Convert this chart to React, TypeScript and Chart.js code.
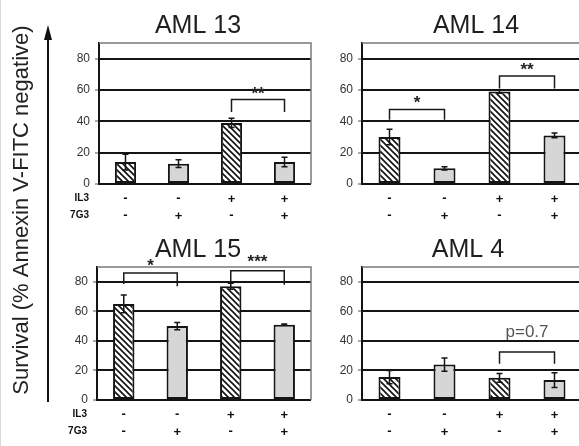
import React, { useEffect, useRef } from 'react';
import { Chart, registerables } from 'chart.js';
Chart.register(...registerables);

// ---------- data ----------
const conditions = ['IL3-/7G3-', 'IL3-/7G3+', 'IL3+/7G3-', 'IL3+/7G3+'];
const il3Signs = ['-', '-', '+', '+'];
const g73Signs = ['-', '+', '-', '+'];
const rowLabels = ['IL3', '7G3'];
const yTicks = [0, 20, 40, 60, 80];
const yMax = 90;
const yAxisTitle = 'Survival (% Annexin V-FITC negative)';

const aml13Values = [14, 13, 39, 14];
const aml13Errors = [5, 2.5, 3, 3];
const aml14Values = [30, 10, 59, 31];
const aml14Errors = [5, 1, 1, 1.5];
const aml15Values = [65, 50, 77, 51];
const aml15Errors = [6, 2.5, 2, 0.5];
const aml4Values = [15.5, 24, 15, 13.5];
const aml4Errors = [4.5, 4.5, 3, 5];

type Bracket = { from: number; to: number; top: number; endFrom: number; endTo: number; label: string; labelAt: number };
const aml13Brackets: Bracket[] = [{ from: 2, to: 3, top: 54, endFrom: 46, endTo: 46, label: '**', labelAt: 60 }];
const aml14Brackets: Bracket[] = [
  { from: 0, to: 1, top: 47.5, endFrom: 41, endTo: 41, label: '*', labelAt: 54 },
  { from: 2, to: 3, top: 69, endFrom: 61, endTo: 61, label: '**', labelAt: 75 },
];
const aml15Brackets: Bracket[] = [
  { from: 0, to: 1, top: 86, endFrom: 78.5, endTo: 77, label: '*', labelAt: 93 },
  { from: 2, to: 3, top: 87.5, endFrom: 79.5, endTo: 78, label: '***', labelAt: 95.5 },
];
const aml4Brackets: Bracket[] = [{ from: 2, to: 3, top: 32.5, endFrom: 24.6, endTo: 24.6, label: 'p=0.7', labelAt: 46 }];

// ---------- layout ----------
const FONT = '"Liberation Sans", Arial, Helvetica, sans-serif';
const Y_AXIS_W = 40;

type PanelCfg = {
  title: string;
  values: number[];
  errors: number[];
  brackets: Bracket[];
  box: { left: number; top: number; width: number; height: number };
  area: { left: number; right: number; top: number; bottom: number };
  titleX: number;
  titleY: number;
  rowLabels: boolean;
};

const panels: PanelCfg[] = [
  {
    title: 'AML 13', values: aml13Values, errors: aml13Errors, brackets: aml13Brackets,
    box: { left: 0, top: 0, width: 320, height: 230 },
    area: { left: 98, right: 310, top: 43, bottom: 184 },
    titleX: 197, titleY: 33, rowLabels: true,
  },
  {
    title: 'AML 14', values: aml14Values, errors: aml14Errors, brackets: aml14Brackets,
    box: { left: 300, top: 0, width: 290, height: 230 },
    area: { left: 61, right: 281, top: 43, bottom: 184 },
    titleX: 175, titleY: 33, rowLabels: false,
  },
  {
    title: 'AML 15', values: aml15Values, errors: aml15Errors, brackets: aml15Brackets,
    box: { left: 0, top: 230, width: 320, height: 216 },
    area: { left: 96, right: 310, top: 37, bottom: 170 },
    titleX: 197, titleY: 27, rowLabels: true,
  },
  {
    title: 'AML 4', values: aml4Values, errors: aml4Errors, brackets: aml4Brackets,
    box: { left: 300, top: 230, width: 290, height: 216 },
    area: { left: 61, right: 281, top: 37, bottom: 170 },
    titleX: 167, titleY: 27, rowLabels: false,
  },
];

function makeHatch(ctx: CanvasRenderingContext2D) {
  const s = 6;
  const c = document.createElement('canvas');
  c.width = s;
  c.height = s;
  const g = c.getContext('2d')!;
  g.fillStyle = '#ffffff';
  g.fillRect(0, 0, s, s);
  g.strokeStyle = '#111111';
  g.lineWidth = 1.6;
  g.beginPath();
  g.moveTo(-1, -1); g.lineTo(s + 1, s + 1);
  g.moveTo(-1, s - 1); g.lineTo(1, s + 1);
  g.moveTo(s - 1, -1); g.lineTo(s + 1, 1);
  g.stroke();
  return ctx.createPattern(c, 'repeat')!;
}

function drawCentered(ctx: CanvasRenderingContext2D, text: string, x: number, cy: number) {
  const m = ctx.measureText(text);
  const asc = m.actualBoundingBoxAscent || 0;
  const desc = m.actualBoundingBoxDescent || 0;
  ctx.textAlign = 'center';
  ctx.textBaseline = 'alphabetic';
  ctx.fillText(text, x, cy + (asc - desc) / 2);
}

function Panel({ p }: { p: PanelCfg }) {
  const ref = useRef<HTMLCanvasElement>(null);
  useEffect(() => {
    const canvas = ref.current!;
    const ctx0 = canvas.getContext('2d')!;
    const hatch = makeHatch(ctx0);
    const fills = [hatch, '#d6d6d6', hatch, '#d6d6d6'];

    const decor = {
      id: 'decor' + p.title.replace(' ', ''),
      afterDatasetsDraw(chart: any) {
        const ctx: CanvasRenderingContext2D = chart.ctx;
        const xs = chart.scales.x;
        const ys = chart.scales.y;
        const a = chart.chartArea;
        ctx.save();
        // frame (top + right)
        ctx.strokeStyle = '#7a7a7a';
        ctx.lineWidth = 1.5;
        ctx.beginPath();
        ctx.moveTo(a.left, a.top);
        ctx.lineTo(a.right, a.top);
        ctx.lineTo(a.right, a.bottom);
        ctx.stroke();

        // error bars
        ctx.strokeStyle = '#151515';
        ctx.lineWidth = 1.5;
        p.values.forEach((v, i) => {
          const e = p.errors[i];
          const x = xs.getPixelForValue(i);
          const yTop = ys.getPixelForValue(v + e);
          const yBot = ys.getPixelForValue(Math.max(0, v - e));
          ctx.beginPath();
          ctx.moveTo(x, yTop); ctx.lineTo(x, yBot);
          ctx.moveTo(x - 3, yTop); ctx.lineTo(x + 3, yTop);
          ctx.moveTo(x - 3, yBot); ctx.lineTo(x + 3, yBot);
          ctx.stroke();
        });

        // brackets
        p.brackets.forEach((b) => {
          const x1 = xs.getPixelForValue(b.from);
          const x2 = xs.getPixelForValue(b.to);
          const yt = ys.getPixelForValue(b.top);
          ctx.strokeStyle = '#1a1a1a';
          ctx.lineWidth = 1.5;
          ctx.beginPath();
          ctx.moveTo(x1, ys.getPixelForValue(b.endFrom));
          ctx.lineTo(x1, yt);
          ctx.lineTo(x2, yt);
          ctx.lineTo(x2, ys.getPixelForValue(b.endTo));
          ctx.stroke();
          const isStar = b.label.indexOf('*') >= 0;
          ctx.fillStyle = isStar ? '#222' : '#555';
          ctx.font = isStar ? `bold 17px ${FONT}` : `17px ${FONT}`;
          drawCentered(ctx, b.label, (x1 + x2) / 2, ys.getPixelForValue(b.labelAt));
        });

        // sign rows
        ctx.fillStyle = '#111';
        ctx.font = `bold 13px ${FONT}`;
        const rowY = [a.bottom + 14, a.bottom + 31];
        [il3Signs, g73Signs].forEach((row, r) => {
          row.forEach((s, i) => {
            drawCentered(ctx, s, xs.getPixelForValue(i), rowY[r]);
          });
        });
        if (p.rowLabels) {
          ctx.font = `bold 10px ${FONT}`;
          rowLabels.forEach((t, r) => {
            const m = ctx.measureText(t);
            ctx.textAlign = 'right';
            ctx.textBaseline = 'middle';
            ctx.fillText(t, a.left - 10, rowY[r]);
            void m;
          });
        }
        // title
        ctx.fillStyle = '#1e1e1e';
        ctx.font = `25px ${FONT}`;
        ctx.textAlign = 'center';
        ctx.textBaseline = 'alphabetic';
        ctx.fillText(p.title, p.titleX, p.titleY);
        ctx.restore();
      },
    };

    const chart = new Chart(canvas, {
      type: 'bar',
      data: {
        labels: conditions,
        datasets: [
          {
            data: p.values,
            backgroundColor: fills as any,
            borderColor: '#151515',
            borderWidth: 2,
            borderSkipped: false,
            barPercentage: 0.4,
            categoryPercentage: 1,
          },
        ],
      },
      options: {
        responsive: false,
        animation: false,
        devicePixelRatio: 1,
        layout: {
          padding: {
            left: p.area.left - Y_AXIS_W,
            right: p.box.width - p.area.right,
            top: p.area.top,
            bottom: p.box.height - p.area.bottom,
          },
        },
        plugins: { legend: { display: false }, tooltip: { enabled: false }, title: { display: false } },
        scales: {
          x: { display: false, offset: true },
          y: {
            min: 0,
            max: yMax,
            afterBuildTicks: (s: any) => {
              s.ticks = yTicks.map((v) => ({ value: v }));
            },
            afterFit: (s: any) => {
              s.width = Y_AXIS_W;
            },
            ticks: { font: { size: 12, family: FONT }, color: '#333', padding: 5 },
            grid: { color: '#141414', lineWidth: 2, tickLength: 4, tickColor: '#555', tickWidth: 1 },
            border: { color: '#141414', width: 2 },
          },
        },
      },
      plugins: [decor],
    });
    return () => chart.destroy();
  }, [p]);
  return (
    <canvas
      ref={ref}
      width={p.box.width}
      height={p.box.height}
      style={{ position: 'absolute', left: p.box.left, top: p.box.top, width: p.box.width, height: p.box.height }}
    />
  );
}

function AxisTitle() {
  const ref = useRef<HTMLCanvasElement>(null);
  useEffect(() => {
    const c = ref.current!;
    const ctx = c.getContext('2d')!;
    ctx.clearRect(0, 0, c.width, c.height);
    ctx.save();
    ctx.translate(21, 210);
    ctx.rotate(-Math.PI / 2);
    ctx.fillStyle = '#222';
    ctx.font = `22px ${FONT}`;
    drawCentered(ctx, yAxisTitle, 0, 0);
    ctx.restore();
    // arrow
    ctx.strokeStyle = '#111';
    ctx.fillStyle = '#111';
    ctx.lineWidth = 2;
    ctx.beginPath();
    ctx.moveTo(47, 402);
    ctx.lineTo(47, 36);
    ctx.stroke();
    ctx.beginPath();
    ctx.moveTo(47, 25);
    ctx.lineTo(43, 40);
    ctx.lineTo(51, 40);
    ctx.closePath();
    ctx.fill();
  }, []);
  return <canvas ref={ref} width={60} height={446} style={{ position: 'absolute', left: 0, top: 0, width: 60, height: 446 }} />;
}

export default function App() {
  return (
    <div
      style={{
        position: 'absolute',
        left: 0,
        top: 0,
        width: 579,
        height: 446,
        overflow: 'hidden',
        background: '#fff',
        borderLeft: '1px solid #d8d8d8',
        boxSizing: 'border-box',
      }}
    >
      <AxisTitle />
      {panels.map((p) => (
        <Panel key={p.title} p={p} />
      ))}
    </div>
  );
}
